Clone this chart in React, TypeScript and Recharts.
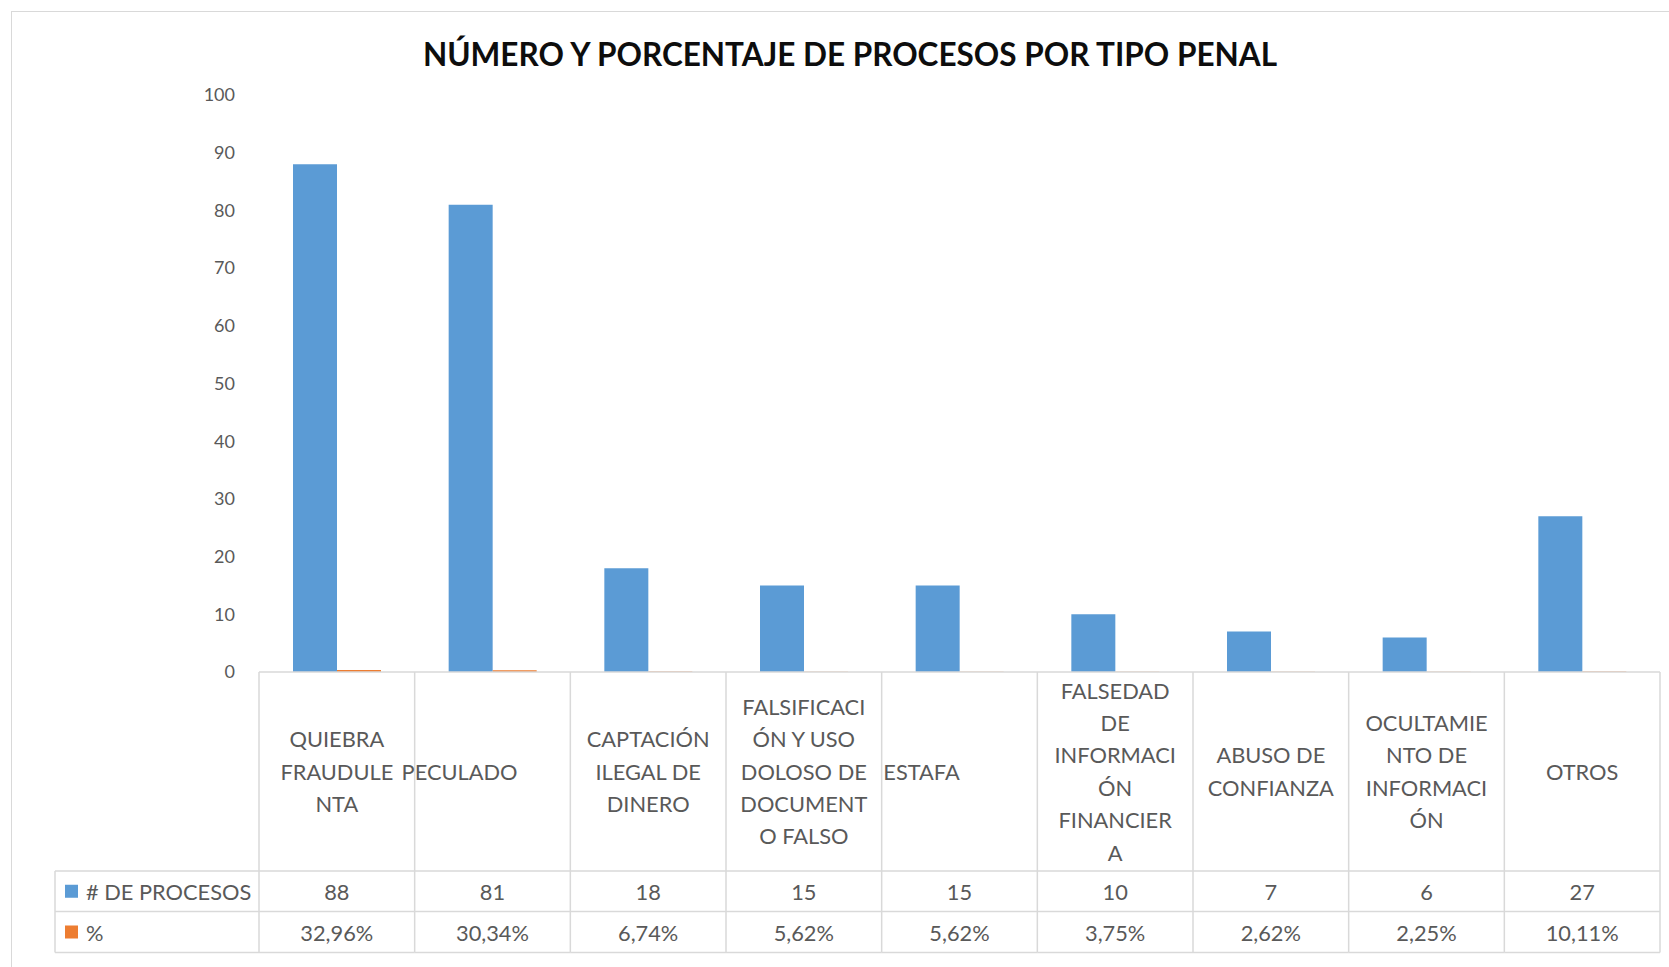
import React from "react";
import { BarChart, Bar, XAxis, YAxis } from "recharts";

// ---------- data ----------
const categories = [
  "QUIEBRA FRAUDULENTA",
  "PECULADO",
  "CAPTACIÓN ILEGAL DE DINERO",
  "FALSIFICACIÓN Y USO DOLOSO DE DOCUMENTO FALSO",
  "ESTAFA",
  "FALSEDAD DE INFORMACIÓN FINANCIERA",
  "ABUSO DE CONFIANZA",
  "OCULTAMIENTO DE INFORMACIÓN",
  "OTROS",
];
const categoryLabelLines = [
  ["QUIEBRA", "FRAUDULE", "NTA"],
  ["PECULADO"],
  ["CAPTACIÓN", "ILEGAL DE", "DINERO"],
  ["FALSIFICACI", "ÓN Y USO", "DOLOSO DE", "DOCUMENT", "O FALSO"],
  ["ESTAFA"],
  ["FALSEDAD", "DE", "INFORMACI", "ÓN", "FINANCIER", "A"],
  ["ABUSO DE", "CONFIANZA"],
  ["OCULTAMIE", "NTO DE", "INFORMACI", "ÓN"],
  ["OTROS"],
];
const procesos = [88, 81, 18, 15, 15, 10, 7, 6, 27];
const porcentajes = [32.96, 30.34, 6.74, 5.62, 5.62, 3.75, 2.62, 2.25, 10.11];
const yTicks = [0, 10, 20, 30, 40, 50, 60, 70, 80, 90, 100];
const seriesNames = ["# DE PROCESOS", "%"];
const title = "NÚMERO Y PORCENTAJE DE PROCESOS POR TIPO PENAL";

const chartData = categories.map((c, i) => ({
  name: c,
  procesos: procesos[i],
  pct: porcentajes[i] / 100,
}));

// ---------- layout / style ----------
const W = 1669;
const H = 967;
const PLOT_TOP = 95;
const PLOT_BOTTOM = 672;
const PLOT_LEFT = 259;
const PLOT_RIGHT = 1660;
const BAND = (PLOT_RIGHT - PLOT_LEFT) / categories.length;
const ROW1 = 871; // bottom of label row
const ROW2 = 911.5; // bottom of "# de procesos" row
const ROW3 = 952.5; // bottom of "%" row
const LEGEND_LEFT = 55;
const LABEL_CENTER_Y = 771;
const LINE_H = 32.4;
const labelShift = [0, -33, 0, 0, -38, 0, 0, 0, 0];

const BLUE = "#5B9BD5";
const ORANGE = "#ED7D31";
const GRID = "#D9D9D9";
const TEXT = "#595959";
const FONT = "Lato, 'Open Sans', sans-serif";

const fmtPct = (v: number) => v.toFixed(2).replace(".", ",") + "%";

function TableTick(props: any) {
  const { x, payload } = props;
  const i = payload.index;
  const left = x - BAND / 2;
  const right = x + BAND / 2;
  const lines = categoryLabelLines[i];
  const startY = LABEL_CENTER_Y - ((lines.length - 1) * LINE_H) / 2;
  const textProps = {
    fill: TEXT,
    fontSize: 21.8,
    fontFamily: FONT,
    dominantBaseline: "central" as const,
  };
  return (
    <g>
      <line x1={left} x2={left} y1={PLOT_BOTTOM} y2={ROW3} stroke={GRID} strokeWidth={1.5} />
      {i === categories.length - 1 && (
        <line x1={right} x2={right} y1={PLOT_BOTTOM} y2={ROW3} stroke={GRID} strokeWidth={1.5} />
      )}
      {[ROW1, ROW2, ROW3].map((yy) => (
        <line key={yy} x1={left} x2={right} y1={yy} y2={yy} stroke={GRID} strokeWidth={1.5} />
      ))}
      {lines.map((ln, k) => (
        <text key={k} x={x + labelShift[i]} y={startY + k * LINE_H} textAnchor="middle" {...textProps}>
          {ln}
        </text>
      ))}
      <text x={x} y={(ROW1 + ROW2) / 2} textAnchor="middle" {...textProps}>
        {procesos[i]}
      </text>
      <text x={x} y={(ROW2 + ROW3) / 2} textAnchor="middle" {...textProps}>
        {fmtPct(porcentajes[i])}
      </text>
      {i === 0 && (
        <g>
          <line x1={LEGEND_LEFT} x2={LEGEND_LEFT} y1={ROW1} y2={ROW3} stroke={GRID} strokeWidth={1.5} />
          {[ROW1, ROW2, ROW3].map((yy) => (
            <line key={"l" + yy} x1={LEGEND_LEFT} x2={left} y1={yy} y2={yy} stroke={GRID} strokeWidth={1.5} />
          ))}
          {seriesNames.map((s, k) => {
            const cy = k === 0 ? (ROW1 + ROW2) / 2 : (ROW2 + ROW3) / 2;
            return (
              <g key={s}>
                <rect x={65} y={cy - 6.5} width={13} height={13} fill={k === 0 ? BLUE : ORANGE} />
                <text x={86} y={cy} textAnchor="start" {...textProps}>
                  {s}
                </text>
              </g>
            );
          })}
        </g>
      )}
    </g>
  );
}

export default function App() {
  return (
    <div
      style={{
        position: "absolute",
        left: 0,
        top: 0,
        width: W,
        height: H,
        background: "#fff",
        overflow: "hidden",
      }}
    >
      <div
        style={{
          position: "absolute",
          left: 11,
          top: 11,
          width: W,
          height: H,
          borderLeft: `1.5px solid ${GRID}`,
          borderTop: `1.5px solid ${GRID}`,
        }}
      />
      <div
        style={{
          position: "absolute",
          left: 0,
          width: 1700,
          top: 55,
          transform: "translateY(-50%)",
          textAlign: "center",
          fontFamily: FONT,
          fontWeight: 700,
          fontSize: 31.5,
          color: "#0d0d0d",
          whiteSpace: "nowrap",
          lineHeight: 1,
        }}
      >
        {title}
      </div>
      <div style={{ position: "absolute", left: 0, top: 0 }}>
        <BarChart
          width={W}
          height={H}
          data={chartData}
          margin={{ top: PLOT_TOP, right: W - PLOT_RIGHT, bottom: 0, left: 0 }}
          barGap={0}
          barSize={44}
        >
          <YAxis
            width={PLOT_LEFT}
            domain={[0, 100]}
            ticks={yTicks}
            interval={0}
            axisLine={false}
            tickLine={false}
            tickSize={0}
            tickMargin={24}
            tick={{ fill: TEXT, fontSize: 18, fontFamily: FONT }}
          />
          <XAxis
            dataKey="name"
            height={H - PLOT_BOTTOM}
            interval={0}
            axisLine={{ stroke: GRID, strokeWidth: 1.5 }}
            tickLine={false}
            tickSize={0}
            tickMargin={0}
            tick={<TableTick />}
          />
          <Bar dataKey="procesos" name={seriesNames[0]} fill={BLUE} isAnimationActive={false} />
          <Bar dataKey="pct" name={seriesNames[1]} fill={ORANGE} isAnimationActive={false} />
        </BarChart>
      </div>
    </div>
  );
}
